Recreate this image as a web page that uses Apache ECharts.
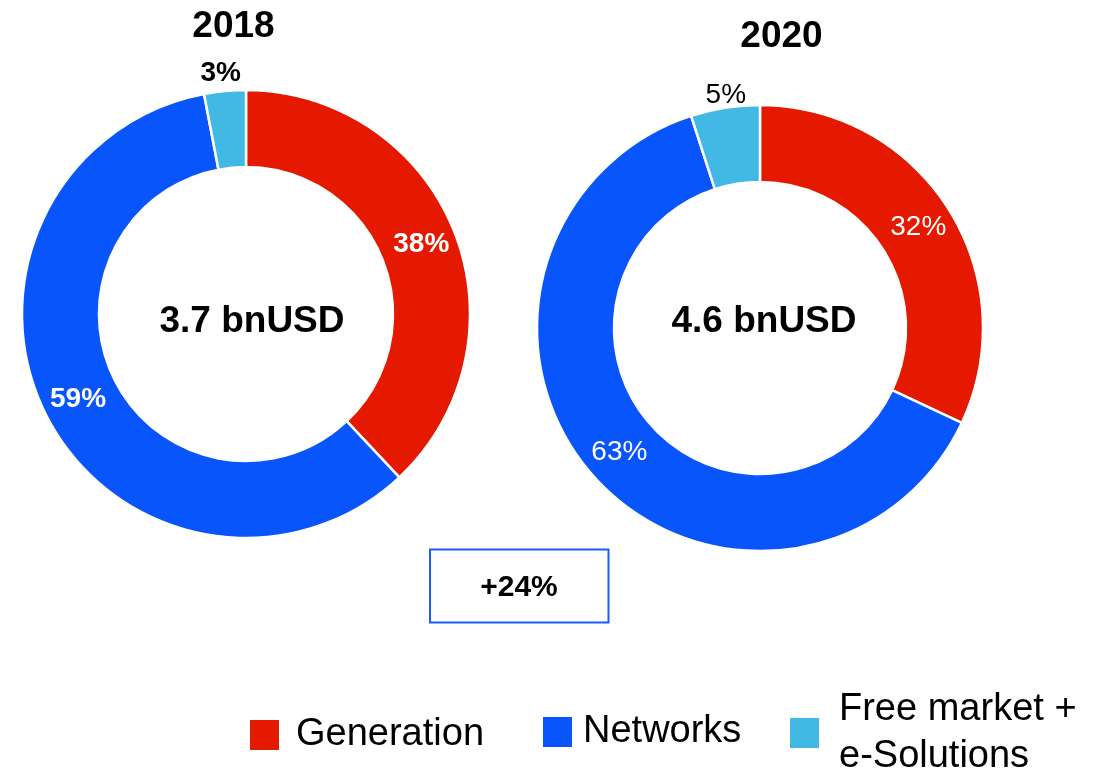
<!DOCTYPE html>
<html>
<head>
<meta charset="utf-8">
<script src="https://cdn.jsdelivr.net/npm/echarts@6/dist/echarts.min.js"></script>
<style>
    html, body { margin: 0; padding: 0; background: #fff; }
    #chart { width: 1102px; height: 774px; }
</style>
</head>
<body>
<div id="chart"></div>
<script>
    const segments = ['Generation', 'Networks', 'Free market +\ne-Solutions'];
    const share2018 = [38, 59, 3];
    const share2020 = [32, 63, 5];
    const years = ['2018', '2020'];
    const totals = ['3.7 bnUSD', '4.6 bnUSD'];
    const growth = '+24%';

    const colors = ['#e41900', '#0855fb', '#42b9e5'];
    const font = 'Liberation Sans, Arial, sans-serif';

    // the small slice gets its label above the ring, without a guide line
    const buildData = (values, lineLen, lineLen2) =>
        segments.map((name, i) => {
            const item = {name: name, value: values[i]};
            if (i === 2) {
                item.label = {position: 'outside', color: '#000'};
                item.labelLine = {show: false, length: lineLen, length2: lineLen2};
            }
            return item;
        });

    const pieSeries = (center, radius, values, weight, lineLen, lineLen2) => ({
        type: 'pie',
        center: center,
        radius: radius,
        startAngle: 90,
        avoidLabelOverlap: false,
        data: buildData(values, lineLen, lineLen2),
        itemStyle: {
            borderColor: '#fff',
            borderWidth: 2.5,
        },
        label: {
            show: true,
            position: 'inside',
            formatter: '{c}%',
            color: '#fff',
            fontSize: 28,
            fontWeight: weight,
            fontFamily: font,
        },
        labelLine: {show: false},
        emphasis: {disabled: true},
    });

    const legendItem = (name, left, top, lineHeight, gap) => ({
        data: [name],
        orient: 'horizontal',
        left: left,
        top: top,
        padding: 0,
        itemWidth: 31,
        itemHeight: 32,
        icon: 'rect',
        selectedMode: false,
        textStyle: {
            fontSize: 38,
            fontFamily: font,
            color: '#000',
            lineHeight: lineHeight,
            padding: [0, 0, 0, gap],
        },
    });

    const textEl = (text, x, y, size) => ({
        type: 'text',
        x: x,
        y: y,
        style: {
            text: text,
            fontSize: size,
            fontWeight: 'bold',
            fontFamily: font,
            fill: '#000',
            align: 'center',
            verticalAlign: 'middle',
        },
    });

    const myChart = echarts.init(document.getElementById('chart'));
    const option = {
        animation: false,
        color: colors,
        legend: [
            legendItem(segments[0], 248, 716, 32, 11),
            legendItem(segments[1], 541, 713, 32, 5),
            legendItem(segments[2], 788, 686, 47, 14),
        ],
        graphic: [
            textEl(years[0], 233.5, 27, 37),
            textEl(years[1], 781.5, 37, 37),
            textEl(totals[0], 252, 322, 37),
            textEl(totals[1], 764, 322, 37),
            {
                type: 'rect',
                shape: {x: 430, y: 549.5, width: 178.5, height: 73},
                style: {fill: 'none', stroke: '#1a5dfb', lineWidth: 2},
            },
            textEl(growth, 519, 587.5, 30),
        ],
        series: [
            pieSeries([246, 314], [147, 224], share2018, 'bold', 17.4, -22.6),
            pieSeries([760, 328], [146, 223], share2020, 'normal', 12.7, -27.9),
        ],
    };
    myChart.setOption(option);
</script>
</body>
</html>
